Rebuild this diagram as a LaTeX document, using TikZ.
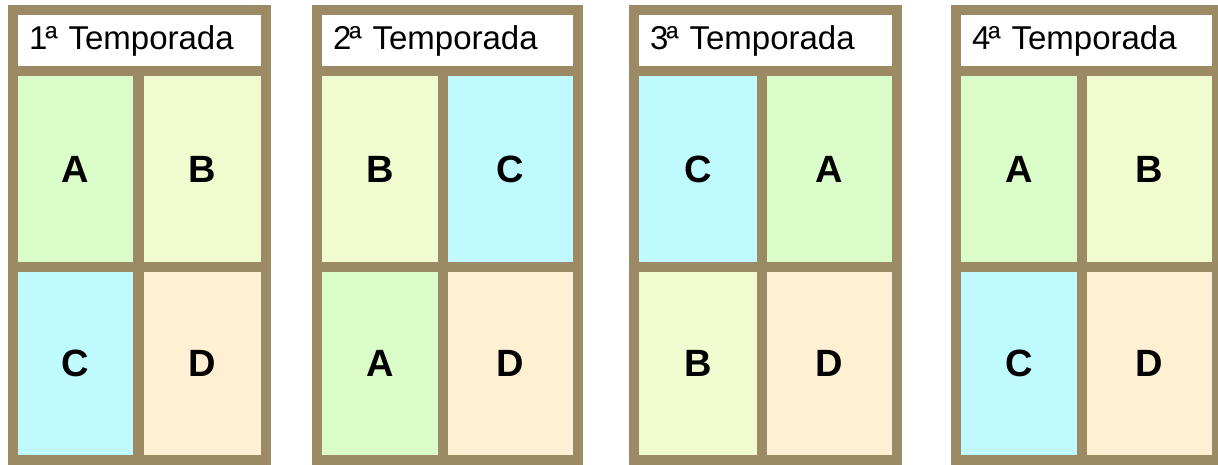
\documentclass[tikz,border=0pt]{standalone}
\usepackage{fontspec}
\setmainfont{Liberation Sans}
\definecolor{frame}{RGB}{155,138,100}
\definecolor{cA}{RGB}{218,252,200}
\definecolor{cB}{RGB}{240,252,208}
\definecolor{cC}{RGB}{190,250,255}
\definecolor{cD}{RGB}{255,240,212}
\begin{document}
\begin{tikzpicture}[x=1pt,y=-1pt,
  panelframe/.style={fill=frame},
  header/.style={fill=white, inner ysep=0pt, inner xsep=11pt, minimum height=51pt,
    align=left, font=\fontsize{33}{33}\selectfont},
  cell/.style={inner sep=0pt, font=\fontsize{38}{38}\selectfont\bfseries}]
\useasboundingbox (0,0) rectangle (1218,465);
\foreach \i/\ol/\il/\da/\db/\ir/\orr/\tl/\tr/\bl/\br in {
  1/8/18/133/144/261/271/A/B/C/D,
  2/312/322/438/448/573/583/B/C/A/D,
  3/629/639/757/767/892/902/C/A/B/D,
  4/951/961/1077/1087/1212/1222/A/B/C/D}{
  \pgfmathsetmacro{\hw}{\ir-\il}
  \pgfmathsetmacro{\hx}{(\ir+\il)/2}
  \pgfmathsetmacro{\tw}{\ir-\il-22}
  \pgfmathsetmacro{\lw}{\da-\il}
  \pgfmathsetmacro{\lx}{(\da+\il)/2}
  \pgfmathsetmacro{\rw}{\ir-\db}
  \pgfmathsetmacro{\rx}{(\ir+\db)/2}
  \fill[panelframe] (\ol,5) rectangle (\orr,466);
  \node[header, minimum width=\hw pt, text width=\tw pt] (h\i) at (\hx,40.5) {\i\kern-2ptª Temporada};
  \node[cell, fill=c\tl, minimum width=\lw pt, minimum height=186pt] (tl\i) at (\lx,169) {\tl};
  \node[cell, fill=c\tr, minimum width=\rw pt, minimum height=186pt] (tr\i) at (\rx,169) {\tr};
  \node[cell, fill=c\bl, minimum width=\lw pt, minimum height=183pt] (bl\i) at (\lx,363.5) {\bl};
  \node[cell, fill=c\br, minimum width=\rw pt, minimum height=183pt] (br\i) at (\rx,363.5) {\br};
}
\end{tikzpicture}
\end{document}
